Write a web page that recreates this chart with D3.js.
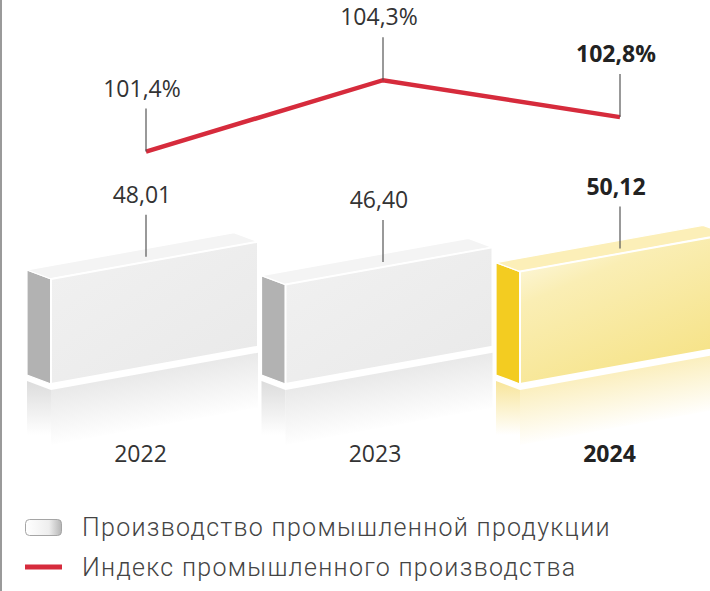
<!DOCTYPE html>
<html>
<head>
<meta charset="utf-8">
<script src="https://cdn.jsdelivr.net/npm/d3@7"></script>
<style>
  body { margin: 0; background: #fff; }
  svg { display: block; }
</style>
</head>
<body>
<script>
const width = 710;
const height = 591;

// data
const years = ["2022", "2023", "2024"];
const production = [48.01, 46.40, 50.12];      // Производство промышленной продукции
const prodLabels = ["48,01", "46,40", "50,12"];
const indexValues = [101.4, 104.3, 102.8];     // Индекс промышленного производства, %
const indexLabels = ["101,4%", "104,3%", "102,8%"];
const legendLabels = ["Производство промышленной продукции", "Индекс промышленного производства"];
const currentYear = "2024";

const svg = d3.select("body").append("svg").attr("width", width).attr("height", height);
const defs = svg.append("defs");

// box geometry
const baseY = 384;
const depthX = 24, depthY = 9;
const skew = -0.18;           // front face rises to the right

const x = d3.scaleBand().domain(years).range([27, 727]).paddingInner(0.015);
const xp = d3.scalePoint().domain(years).range([146, 620]);
const h = d3.scaleLinear().domain([18, 52]).range([0, 119]);
const yIdx = d3.scaleLinear().domain([100, 105]).range([186, 63]);

const frontW = x.bandwidth() - depthX;

const gray = { front: "url(#grayFront)", side: "#b2b2b2", top: "#f4f4f4", refl: "#e9e9e9", reflSide: "#dcdcdc" };
const yellow = { front: "url(#yellowFront)", side: "#f3cc21", top: "#fcefb8", refl: "#fbefbf", reflSide: "#f8e59a" };

// gradients
const gf = defs.append("linearGradient").attr("id", "grayFront")
  .attr("x1", 0).attr("y1", 0).attr("x2", 1).attr("y2", 1);
gf.append("stop").attr("offset", "0%").attr("stop-color", "#f1f1f1");
gf.append("stop").attr("offset", "100%").attr("stop-color", "#e9e9e9");

const yf = defs.append("linearGradient").attr("id", "yellowFront")
  .attr("x1", 0).attr("y1", 0).attr("x2", 0.6).attr("y2", 1);
yf.append("stop").attr("offset", "0%").attr("stop-color", "#fefcf0");
yf.append("stop").attr("offset", "35%").attr("stop-color", "#faeeb4");
yf.append("stop").attr("offset", "100%").attr("stop-color", "#f6e388");

const lg = defs.append("linearGradient").attr("id", "legendBox")
  .attr("x1", 0).attr("y1", 0).attr("x2", 1).attr("y2", 0);
lg.append("stop").attr("offset", "0%").attr("stop-color", "#ffffff");
lg.append("stop").attr("offset", "65%").attr("stop-color", "#eeeeee");
lg.append("stop").attr("offset", "100%").attr("stop-color", "#b5b5b5");

// left rule
svg.append("line")
  .attr("x1", 1).attr("x2", 1).attr("y1", 0).attr("y2", height)
  .style("stroke", "#9a9a9a").style("stroke-width", 2);

const boxes = years.map((yr, i) => ({ year: yr, value: production[i], label: prodLabels[i], idx: indexValues[i], idxLabel: indexLabels[i] }));

const pts = arr => arr.map(p => p.join(",")).join(" ");

const g = svg.selectAll("g.box").data(boxes).enter().append("g").attr("class", "box");

g.each(function (d, i) {
  const sel = d3.select(this);
  const c = d.year === currentYear ? yellow : gray;
  const fx = x(d.year) + depthX;
  const hh = h(d.value);
  const drop = skew * frontW;
  const gap = 6, rl = 55;

  // reflection gradient
  const rg = defs.append("linearGradient").attr("id", "refl" + i)
    .attr("gradientUnits", "userSpaceOnUse")
    .attr("x1", fx).attr("y1", baseY + gap)
    .attr("x2", fx + 0.18 * rl).attr("y2", baseY + gap + rl);
  rg.append("stop").attr("offset", "0%").attr("stop-color", c.refl).attr("stop-opacity", 1);
  rg.append("stop").attr("offset", "100%").attr("stop-color", c.refl).attr("stop-opacity", 0);

  const rgs = defs.append("linearGradient").attr("id", "reflS" + i)
    .attr("gradientUnits", "userSpaceOnUse")
    .attr("x1", 0).attr("y1", baseY + gap - depthY).attr("x2", 0).attr("y2", baseY + gap + rl - 10);
  rgs.append("stop").attr("offset", "0%").attr("stop-color", c.reflSide).attr("stop-opacity", 1);
  rgs.append("stop").attr("offset", "100%").attr("stop-color", c.reflSide).attr("stop-opacity", 0);

  // reflections
  sel.append("polygon")
    .attr("points", pts([[fx - depthX, baseY - depthY + gap], [fx, baseY + gap], [fx, baseY + gap + rl], [fx - depthX, baseY - depthY + gap + rl]]))
    .style("fill", `url(#reflS${i})`);
  sel.append("polygon")
    .attr("points", pts([[fx, baseY + gap], [fx + frontW, baseY + drop + gap], [fx + frontW, baseY + drop + gap + rl], [fx, baseY + gap + rl]]))
    .style("fill", `url(#refl${i})`);

  // side face
  sel.append("polygon")
    .attr("points", pts([[fx - depthX, baseY - depthY - hh], [fx, baseY - hh], [fx, baseY], [fx - depthX, baseY - depthY]]))
    .style("fill", c.side).style("stroke", "#fff").style("stroke-width", 1.2);
  // top face
  sel.append("polygon")
    .attr("points", pts([[fx - depthX, baseY - depthY - hh], [fx + frontW - depthX, baseY + drop - depthY - hh], [fx + frontW, baseY + drop - hh], [fx, baseY - hh]]))
    .style("fill", c.top).style("stroke", "#fff").style("stroke-width", 1.2);
  // front face
  sel.append("polygon")
    .attr("points", pts([[fx, baseY - hh], [fx + frontW, baseY + drop - hh], [fx + frontW, baseY + drop], [fx, baseY]]))
    .style("fill", c.front).style("stroke", "#fff").style("stroke-width", 2);

  // value label with leader
  const lx = xp(d.year);
  const topY = baseY - hh + skew * (lx - fx) - 5;
  sel.append("line")
    .attr("x1", lx).attr("x2", lx).attr("y1", topY).attr("y2", topY - 42)
    .style("stroke", "#555").style("stroke-width", 1.2);
  sel.append("text")
    .attr("x", lx - 4).attr("y", topY - 54)
    .attr("text-anchor", "middle")
    .style("font-family", "'Open Sans', sans-serif")
    .style("font-size", "23px")
    .style("font-weight", d.year === currentYear ? 700 : 400)
    .style("fill", d.year === currentYear ? "#222" : "#333")
    .text(d.label);

  // year label
  sel.append("text")
    .attr("x", x(d.year) + x.bandwidth() / 2 - 2).attr("y", 462)
    .attr("text-anchor", "middle")
    .style("font-family", "'Open Sans', sans-serif")
    .style("font-size", "23px")
    .style("font-weight", d.year === currentYear ? 700 : 400)
    .style("fill", d.year === currentYear ? "#222" : "#333")
    .text(d.year);
});

// index line
const line = d3.line().x(d => xp(d.year)).y(d => yIdx(d.idx));
svg.append("path")
  .datum(boxes)
  .attr("d", line)
  .style("fill", "none")
  .style("stroke", "#d62b3c")
  .style("stroke-width", 4.5);

const il = svg.selectAll("g.idx").data(boxes).enter().append("g").attr("class", "idx");
il.append("line")
  .attr("x1", d => xp(d.year)).attr("x2", d => xp(d.year))
  .attr("y1", d => yIdx(d.idx)).attr("y2", d => yIdx(d.idx) - 43)
  .style("stroke", "#555").style("stroke-width", 1.2);
il.append("text")
  .attr("x", d => xp(d.year) - 4).attr("y", d => yIdx(d.idx) - 55)
  .attr("text-anchor", "middle")
  .style("font-family", "'Open Sans', sans-serif")
  .style("font-size", "23px")
  .style("font-weight", d => d.year === currentYear ? 700 : 400)
  .style("fill", d => d.year === currentYear ? "#222" : "#333")
  .text(d => d.idxLabel);

// legend
svg.append("rect")
  .attr("x", 25.5).attr("y", 519.5).attr("width", 36).attr("height", 16).attr("rx", 4)
  .style("fill", "url(#legendBox)").style("stroke", "#a5a5a5").style("stroke-width", 1);
svg.append("line")
  .attr("x1", 25).attr("x2", 62).attr("y1", 567).attr("y2", 567)
  .style("stroke", "#d62b3c").style("stroke-width", 5);

svg.selectAll("text.legend").data(legendLabels).enter().append("text")
  .attr("class", "legend")
  .attr("x", 82).attr("y", (d, i) => 536 + i * 40)
  .style("font-family", "Roboto, sans-serif")
  .style("font-size", "25px")
  .style("font-weight", 300)
  .style("letter-spacing", "1.3px")
  .style("fill", "#444")
  .text(d => d);
</script>
</body>
</html>
